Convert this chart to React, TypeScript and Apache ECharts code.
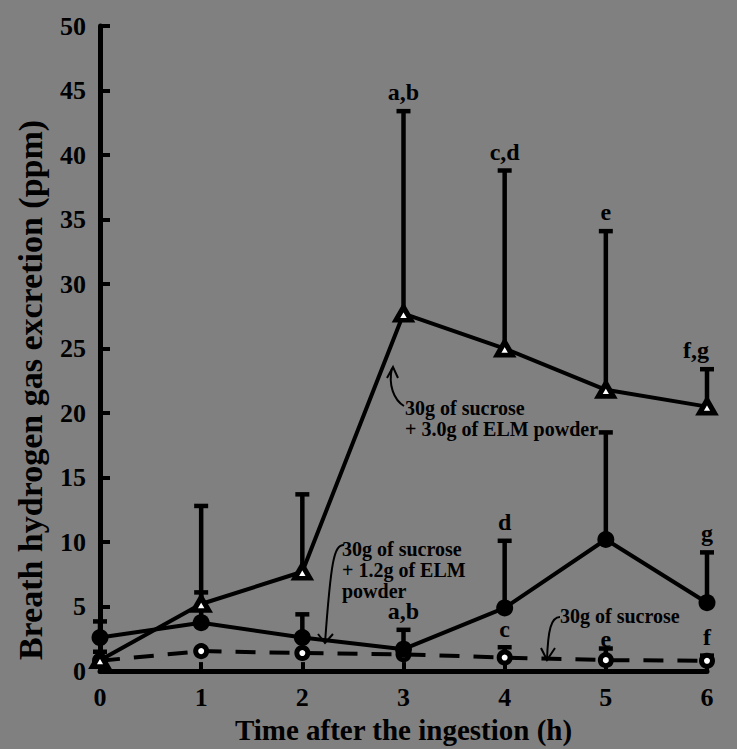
import React, { useEffect, useRef } from "react";
import * as echarts from "echarts";

const timePoints = [0, 1, 2, 3, 4, 5, 6];

const elm30Mean = [0.85, 5.2, 7.7, 27.7, 25.0, 21.8, 20.5];
const elm30Upper = [1.5, 12.8, 13.7, 43.4, 38.8, 34.1, 23.4];
const elm30Letters = ["", "", "", "a,b", "c,d", "e", "f,g"];

const elm12Mean = [2.6, 3.75, 2.6, 1.7, 4.9, 10.2, 5.3];
const elm12Upper = [3.85, 6.1, 4.4, 3.2, 10.1, 18.5, 9.2];
const elm12Letters = ["", "", "", "a,b", "d", "", "g"];

const sucroseMean = [0.8, 1.55, 1.4, 1.3, 1.05, 0.85, 0.8];
const sucroseUpper: (number | null)[] = [null, null, null, null, 1.85, 1.75, 1.2];
const sucroseLetters = ["", "", "", "", "c", "e", "f"];

const FONT = '"Liberation Serif", "Times New Roman", serif';

// vertical gap (px) between an error cap and its letter label
const DEFAULT_LABEL_GAP = 19;
const SUCROSE_LABEL_GAPS = [19, 19, 19, 19, 18, 10, 19];

function errorSeries(
  mean: number[],
  upper: (number | null)[],
  letters: string[],
  z: number,
  gaps?: number[]
) {
  const data = timePoints.map((t, i) => [t, mean[i], upper[i] == null ? mean[i] : upper[i], i]);
  return {
    type: "custom",
    z,
    silent: true,
    encode: { x: 0, y: [1, 2] },
    data,
    renderItem: (params: any, api: any) => {
      const x = api.value(0);
      const m = api.value(1);
      const u = api.value(2);
      const idx = api.value(3);
      const p0 = api.coord([x, m]);
      const p1 = api.coord([x, u]);
      const children: any[] = [];
      if (upper[idx] != null) {
        children.push({
          type: "line",
          shape: { x1: p0[0], y1: p0[1], x2: p1[0], y2: p1[1] },
          style: { stroke: "#000", lineWidth: 4.5 },
        });
        children.push({
          type: "line",
          shape: { x1: p1[0] - 7, y1: p1[1], x2: p1[0] + 7, y2: p1[1] },
          style: { stroke: "#000", lineWidth: 4.5 },
        });
      }
      const txt = letters[idx];
      if (txt) {
        const rightAlign = idx === timePoints.length - 1 && txt.length > 1;
        const gap = gaps ? gaps[idx] : DEFAULT_LABEL_GAP;
        children.push({
          type: "text",
          x: rightAlign ? p1[0] + 2 : p1[0],
          y: p1[1] - gap,
          style: {
            text: txt,
            fill: "#000",
            font: `bold 24px ${FONT}`,
            align: rightAlign ? "right" : "center",
            verticalAlign: "middle",
            textAlign: rightAlign ? "right" : "center",
            textVerticalAlign: "middle",
          },
        });
      }
      return { type: "group", children };
    },
  };
}

function arrowHead(tx: number, ty: number, lx: number, ly: number, rx: number, ry: number) {
  return {
    type: "polyline",
    shape: { points: [[lx, ly], [tx, ty], [rx, ry]] },
    style: { stroke: "#000", lineWidth: 2, fill: null },
    z: 10,
  };
}

function annText(x: number, y: number, text: string) {
  return {
    type: "text",
    x,
    y,
    style: {
      text,
      fill: "#000",
      font: `bold 20px ${FONT}`,
      lineHeight: 21,
      align: "left",
      verticalAlign: "top",
    },
    z: 10,
  };
}

export default function App() {
  const ref = useRef<HTMLDivElement>(null);
  useEffect(() => {
    if (!ref.current) return;
    const chart = echarts.init(ref.current, null, { renderer: "svg" });
    const axisLabelStyle = {
      color: "#000",
      fontFamily: FONT,
      fontWeight: "bold" as const,
      fontSize: 26,
    };
    chart.setOption({
      animation: false,
      backgroundColor: "#808080",
      grid: { left: 100, right: 30, top: 26, bottom: 72, containLabel: false },
      xAxis: {
        type: "value",
        min: 0,
        max: 6,
        interval: 1,
        name: "Time after the ingestion (h)",
        nameLocation: "middle",
        nameGap: 43,
        nameTextStyle: { color: "#000", fontFamily: FONT, fontWeight: "bold", fontSize: 29 },
        axisLine: { show: true, lineStyle: { color: "#000", width: 5 } },
        axisTick: { show: true, inside: true, length: 9, lineStyle: { color: "#000", width: 4 } },
        axisLabel: { ...axisLabelStyle, margin: 13 },
        splitLine: { show: false },
      },
      yAxis: {
        type: "value",
        min: 0,
        max: 50,
        interval: 5,
        axisLine: { show: true, lineStyle: { color: "#000", width: 5 } },
        axisTick: { show: true, inside: true, length: 10, lineStyle: { color: "#000", width: 4 } },
        axisLabel: { ...axisLabelStyle, margin: 14 },
        splitLine: { show: false },
      },
      series: [
        errorSeries(sucroseMean, sucroseUpper, sucroseLetters, 1, SUCROSE_LABEL_GAPS),
        errorSeries(elm12Mean, elm12Upper, elm12Letters, 1),
        errorSeries(elm30Mean, elm30Upper, elm30Letters, 1),
        {
          type: "line",
          name: "30g of sucrose",
          z: 2,
          data: timePoints.map((t, i) => [t, sucroseMean[i]]),
          lineStyle: { color: "#000", width: 4, type: [20, 14] },
          symbol: "circle",
          symbolSize: 11,
          itemStyle: { color: "#fff", borderColor: "#000", borderWidth: 5 },
        },
        {
          type: "line",
          name: "30g of sucrose + 1.2g of ELM powder",
          z: 3,
          data: timePoints.map((t, i) => [t, elm12Mean[i]]),
          lineStyle: { color: "#000", width: 4 },
          symbol: "circle",
          symbolSize: 17,
          itemStyle: { color: "#000", borderColor: "#000", borderWidth: 0 },
        },
        {
          type: "line",
          name: "30g of sucrose + 3.0g of ELM powder",
          z: 4,
          data: timePoints.map((t, i) => [t, elm30Mean[i]]),
          lineStyle: { color: "#000", width: 4 },
          symbol: "triangle",
          symbolSize: [15, 13],
          itemStyle: { color: "#fff", borderColor: "#000", borderWidth: 5 },
        },
      ],
      graphic: [
        {
          type: "text",
          x: 30,
          y: 390,
          rotation: Math.PI / 2,
          style: {
            text: "Breath hydrogen gas excretion (ppm)",
            fill: "#000",
            font: `bold 34px ${FONT}`,
            align: "center",
            verticalAlign: "middle",
          },
        },
        annText(405, 397, "30g of sucrose\n+ 3.0g of ELM powder"),
        {
          type: "bezierCurve",
          shape: { x1: 404, y1: 406, cpx1: 394, cpy1: 400, cpx2: 388, cpy2: 385, x2: 392, y2: 368 },
          style: { stroke: "#000", lineWidth: 2, fill: null },
          z: 10,
        },
        arrowHead(393, 367, 387, 378, 398, 378),
        annText(342, 538, "30g of sucrose\n+ 1.2g of ELM\npowder"),
        {
          type: "bezierCurve",
          shape: { x1: 344, y1: 545, cpx1: 334, cpy1: 545, cpx2: 331, cpy2: 560, x2: 325, y2: 643 },
          style: { stroke: "#000", lineWidth: 2, fill: null },
          z: 10,
        },
        arrowHead(325, 643, 318, 634, 333, 634),
        annText(560, 605, "30g of sucrose"),
        {
          type: "bezierCurve",
          shape: { x1: 560, y1: 617, cpx1: 551, cpy1: 617, cpx2: 548, cpy2: 630, x2: 547, y2: 660 },
          style: { stroke: "#000", lineWidth: 2, fill: null },
          z: 10,
        },
        arrowHead(547, 660, 541, 648, 555, 648),
      ],
    });
    return () => chart.dispose();
  }, []);
  return (
    <div
      ref={ref}
      style={{ position: "fixed", left: 0, top: 0, width: 737, height: 749, background: "#808080" }}
    />
  );
}
